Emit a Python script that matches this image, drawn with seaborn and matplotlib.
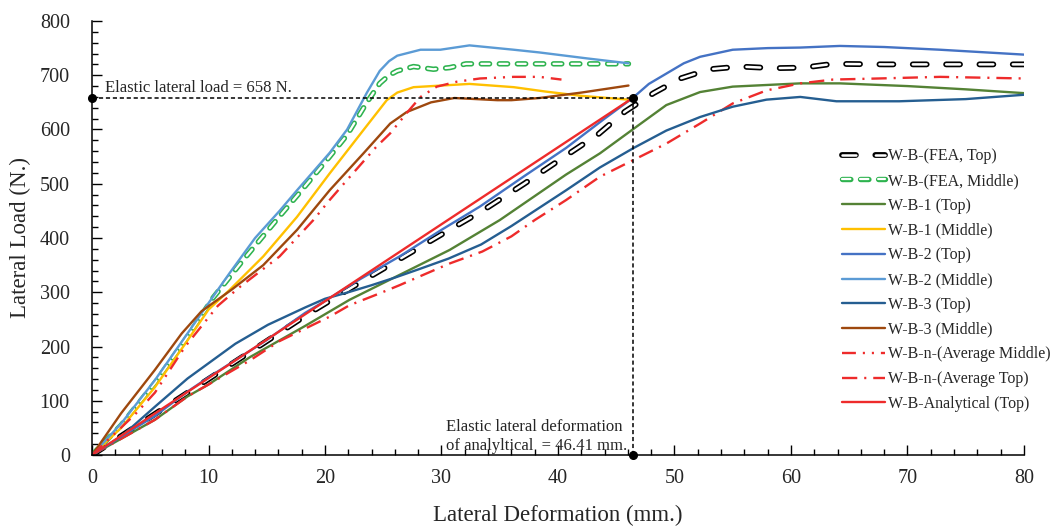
import numpy as np
import pandas as pd
import matplotlib
matplotlib.use("Agg")
import matplotlib.pyplot as plt
import matplotlib.patheffects as pe
from matplotlib.ticker import MultipleLocator
import seaborn as sns

# ---------------- data ----------------
fea_top_x = [0, 5, 10, 15, 18.7, 23, 27.9, 30.2, 33.5, 37.1, 40.7, 43.5, 45.75, 48.2, 50.5, 53, 55.6, 58.5, 61.1, 63.6, 68, 72, 76, 80]
fea_top_y = [0, 70, 140, 210, 262, 318, 380, 409, 450, 500, 552, 592, 633, 667, 694, 711, 716, 713, 714, 721, 720, 720, 720, 720]

fea_mid_x = [0, 2.5, 5.4, 8, 10.4, 13, 16.1, 18, 20.4, 21.9, 23.6, 24.7, 25.5, 26.2, 27.6, 29.3, 30.7, 32.1, 36, 40, 44, 46.05]
fea_mid_y = [0, 55, 133, 212, 290, 360, 440, 488, 550, 590, 650, 685, 700, 708, 716, 711, 714, 721, 721, 721, 721, 721]

wb1_top_x = [0, 2.5, 5.4, 8.2, 10, 13.6, 18.3, 22.1, 26.4, 30.7, 35, 40.7, 43.6, 46.41, 49.3, 52.2, 55, 60.8, 64.2, 70, 75, 80]
wb1_top_y = [0, 30, 65, 108, 130, 181, 238, 286, 332, 378, 433, 517, 556, 600, 645, 669, 679, 685, 685, 680, 674, 667]

wb1_mid_x = [0, 2.5, 5.4, 8, 10, 11.8, 14.7, 17.6, 20.4, 23.3, 25.3, 26.2, 27.6, 30, 32.4, 36.2, 38.9, 42, 46.05]
wb1_mid_y = [0, 50, 125, 205, 268, 304, 366, 439, 519, 599, 654, 668, 678, 681, 684, 678, 670, 662, 655]

wb2_top_x = [0, 2.5, 5.4, 8.2, 10, 15, 18.3, 20, 23, 26.4, 30, 33.3, 37.1, 40.7, 44, 46.41, 47.8, 49.3, 50.8, 52.2, 55, 58, 60.8, 64.2, 68, 72.8, 76, 80]
wb2_top_y = [0, 34, 72, 117, 143, 212, 262, 284, 324, 366, 415, 458, 514, 566, 620, 658, 684, 703, 722, 734, 747, 750, 751, 754, 752, 747, 743, 738]

wb2_mid_x = [0, 2.5, 5.4, 8, 10, 11.8, 14, 16.1, 17.6, 20.4, 21.9, 23.6, 24.7, 25.5, 26.2, 28.2, 29.9, 32.4, 36.2, 38.4, 42.5, 46.05]
wb2_mid_y = [0, 58, 138, 218, 280, 335, 400, 450, 488, 557, 600, 668, 708, 726, 736, 747, 747, 755, 747, 742, 731, 722]

wb3_top_x = [0, 2.5, 5.4, 8.2, 12.3, 15.1, 18.3, 20, 22, 24, 26, 28, 30.6, 33.4, 36, 40.7, 43.6, 46.5, 49.3, 52.2, 55, 57.9, 60.8, 63.9, 69.3, 75, 80]
wb3_top_y = [0, 34, 89, 141, 205, 240, 272, 288, 300, 313, 327, 342, 362, 388, 422, 488, 530, 566, 598, 623, 642, 655, 660, 652, 652, 656, 664]

wb3_mid_x = [0, 0.5, 2.5, 5.4, 7.7, 9.4, 12, 14.7, 17.6, 20.4, 23.3, 25.6, 27, 29.1, 31.1, 33, 34.8, 36, 38.4, 42, 46.05]
wb3_mid_y = [0, 15, 77, 157, 224, 265, 305, 350, 415, 488, 556, 611, 632, 650, 658, 656, 654, 654, 658, 668, 681]

avg_mid_x = [0, 3.7, 5.4, 8, 10.8, 12.7, 16.1, 19, 20.4, 21.9, 24.4, 25.6, 27, 28.2, 29.6, 31.3, 33.3, 36.2, 38.4, 40.3]
avg_mid_y = [0, 75, 115, 200, 275, 310, 366, 433, 470, 507, 568, 593, 630, 660, 679, 688, 694, 697, 697, 692]

avg_top_x = [0, 2.5, 5.4, 8.2, 10, 13.6, 16.1, 20.4, 22.1, 24.7, 26.4, 28, 30.7, 33.5, 36, 38, 40.7, 43.6, 46.5, 49.3, 52.2, 55, 57.9, 60.8, 63.6, 67.5, 72.8, 80]
avg_top_y = [0, 30, 65, 108, 130, 175, 210, 255, 276, 298, 313, 328, 353, 375, 403, 433, 470, 513, 544, 574, 611, 648, 672, 685, 692, 694, 697, 694]

ana_x = [0, 46.41]
ana_y = [0, 658]

elastic_load = 658
elastic_def = 46.41

labels = ["W-B-(FEA, Top)", "W-B-(FEA, Middle)", "W-B-1 (Top)", "W-B-1 (Middle)",
          "W-B-2 (Top)", "W-B-2 (Middle)", "W-B-3 (Top)", "W-B-3 (Middle)",
          "W-B-n-(Average Middle)", "W-B-n-(Average Top)", "W-B-Analytical (Top)"]

# ---------------- style ----------------
sns.set_theme(style="white")
plt.rcParams['font.family'] = ['Liberation Serif', 'DejaVu Serif']
plt.rcParams['lines.scale_dashes'] = False

fig = plt.figure(figsize=(10.54, 5.31), dpi=100)
ax = fig.add_axes([0.0873, 0.1431, 0.8842, 0.8174])

RED = '#EE2B2B'
series = [
    (fea_top_x, fea_top_y, dict(color='white', lw=1.8, dashes=(10, 14), dash_capstyle='round',
                                path_effects=[pe.Stroke(linewidth=4.2, foreground='black'), pe.Normal()])),
    (fea_mid_x, fea_mid_y, dict(color='white', lw=1.6, dashes=(6, 7), dash_capstyle='round',
                                path_effects=[pe.Stroke(linewidth=3.9, foreground='#2EB34F'), pe.Normal()])),
    (wb1_top_x, wb1_top_y, dict(color='#548235', lw=1.7)),
    (wb1_mid_x, wb1_mid_y, dict(color='#FFC000', lw=1.7)),
    (wb2_top_x, wb2_top_y, dict(color='#4472C4', lw=1.7)),
    (wb2_mid_x, wb2_mid_y, dict(color='#5B9BD5', lw=1.7)),
    (wb3_top_x, wb3_top_y, dict(color='#255E91', lw=1.7)),
    (wb3_mid_x, wb3_mid_y, dict(color='#9E480E', lw=1.7)),
    (avg_mid_x, avg_mid_y, dict(color=RED, lw=1.7, dashes=(10, 5, 1.5, 5, 1.5, 5))),
    (avg_top_x, avg_top_y, dict(color=RED, lw=1.7, dashes=(11, 5, 1.5, 5))),
    (ana_x, ana_y, dict(color=RED, lw=1.7)),
]

order_draw = [0, 1, 2, 3, 5, 7, 8, 9, 6, 4, 10]
handles = {}
for i in order_draw:
    xs, ys, kw = series[i]
    df = pd.DataFrame({'x': xs, 'y': ys})
    kw = dict(kw)
    dashes = kw.pop('dashes', None)
    sns.lineplot(data=df, x='x', y='y', ax=ax, estimator=None, sort=False, **kw)
    ln = ax.lines[-1]
    ln.set_solid_joinstyle('round')
    if dashes is not None:
        ln.set_dashes(dashes)
    ln.set_label(labels[i])
    handles[i] = ln

# reference lines
ax.plot([0, elastic_def], [elastic_load, elastic_load], color='black', lw=1.1, dashes=(3, 2))
ax.plot([elastic_def, elastic_def], [0, elastic_load], color='black', lw=1.1, dashes=(3, 2))
ax.plot([0, elastic_def, elastic_def], [elastic_load, elastic_load, 0], 'o', color='black',
        ms=5.5, clip_on=False, zorder=10)

ax.text(1.1, elastic_load + 3, "Elastic lateral load = 658 N.", fontsize=12, ha='left', va='bottom')
ax.text(30.4, 2, "Elastic lateral deformation\nof analyltical  = 46.41 mm.", fontsize=12,
        ha='left', va='bottom', linespacing=1.25)

ax.set_xlim(0, 80)
ax.set_ylim(0, 800)
ax.xaxis.set_major_locator(MultipleLocator(10))
ax.xaxis.set_minor_locator(MultipleLocator(2))
ax.yaxis.set_major_locator(MultipleLocator(100))
ax.yaxis.set_minor_locator(MultipleLocator(20))
ax.tick_params(which='major', direction='in', length=7, width=1, color='black',
               labelsize=14.5, bottom=True, left=True)
ax.tick_params(which='minor', direction='in', length=4, width=1, color='black', bottom=True, left=True)
ax.tick_params(axis='x', which='major', pad=10)
ax.tick_params(axis='y', which='major', pad=16)
for s in ['top', 'right']:
    ax.spines[s].set_visible(False)
for s in ['left', 'bottom']:
    ax.spines[s].set_color('black')
    ax.spines[s].set_linewidth(1.1)
ax.set_xlabel("Lateral Deformation (mm.)", fontsize=16.5, labelpad=12)
ax.set_ylabel("Lateral Load (N.)", fontsize=16.5, labelpad=6)

leg = ax.legend([handles[i] for i in range(11)], labels, loc='upper left',
                bbox_to_anchor=(0.787, 0.745), bbox_transform=fig.transFigure,
                frameon=False, fontsize=11.5, handlelength=2.7, handletextpad=0.15,
                labelspacing=0.55, borderpad=0.3)

fig.savefig("out.png", dpi=100)
